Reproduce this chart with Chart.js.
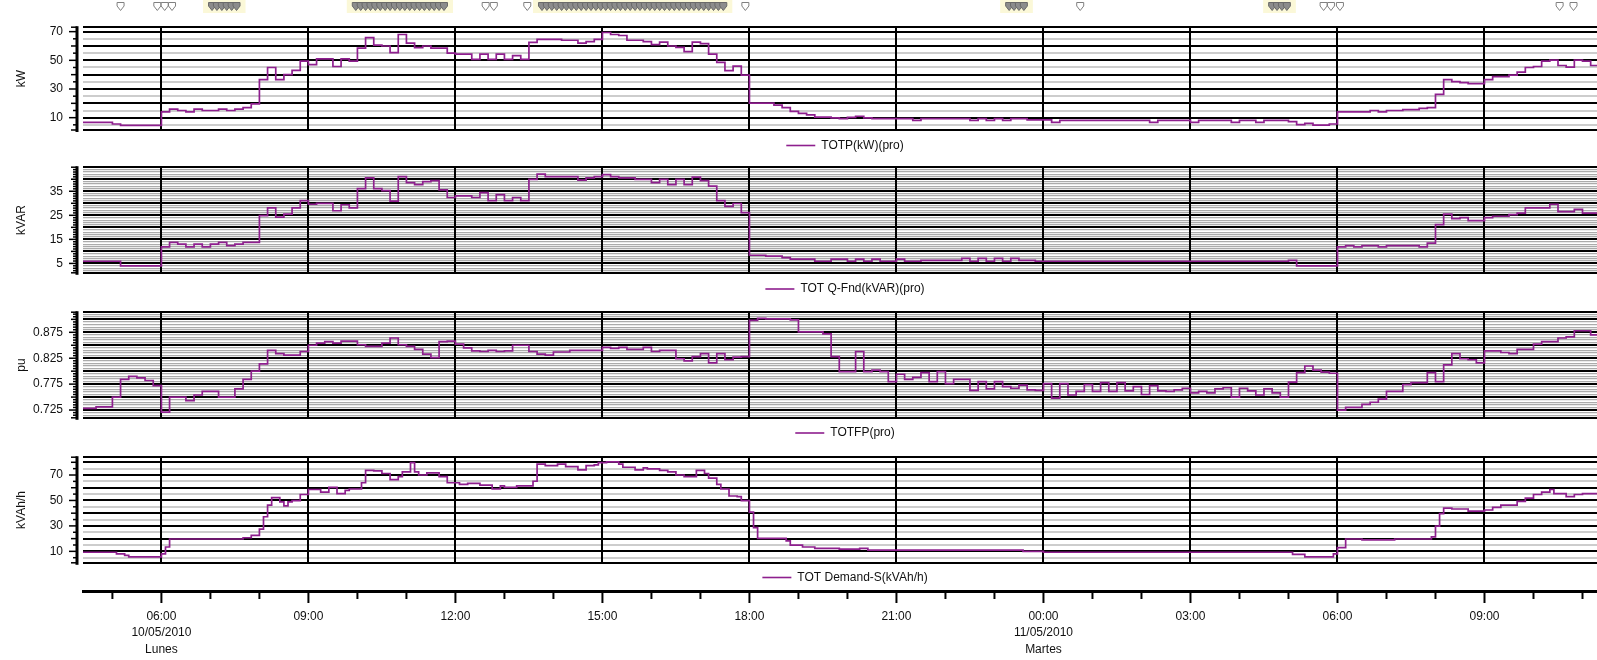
<!DOCTYPE html>
<html><head><meta charset="utf-8">
<script src="https://cdn.jsdelivr.net/npm/chart.js@4/dist/chart.umd.min.js"></script>
<style>
html,body{margin:0;padding:0;background:#fff;overflow:hidden;width:1597px;height:660px;position:relative}
canvas{position:absolute;left:0;display:block}
</style></head><body>
<canvas id="c1" width="1610" height="160" style="top:0px"></canvas>
<canvas id="c2" width="1610" height="160" style="top:140px"></canvas>
<canvas id="c3" width="1610" height="160" style="top:285px"></canvas>
<canvas id="c4" width="1610" height="160" style="top:430px"></canvas>
<canvas id="c5" width="1610" height="85" style="top:575px"></canvas>
<script>
// time values: minutes since Monday 10/05/2010 00:00
const X_MIN = 264, X_MAX = 2130;

// bottom axis tick labels
const timeTicks  = [360, 540, 720, 900, 1080, 1260, 1440, 1620, 1800, 1980];
const timeLabels = ['06:00','09:00','12:00','15:00','18:00','21:00','00:00','03:00','06:00','09:00'];
const dateTicks  = [360, 1440];
const dateLabels = ['10/05/2010', '11/05/2010'];
const dayLabels  = ['Lunes', 'Martes'];

// TOTP(kW)(pro)
const kwTime  = [264,300,310,360,370,380,390,400,410,430, 440,450,460,470,480,490,500,510,520,530,
  540,550,570,580,590,600,610,620,630,640, 650,660,670,680,690,710,720,740,750,760,
  770,780,790,800,810,820,850,870,880,890, 900,910,920,930,950,960,970,980,990,1000,
  1010,1020,1030,1040,1050,1060,1070,1080,1110,1120, 1130,1140,1150,1160,1180,1190,1200,1210,1220,1230,
  1280,1290,1350,1360,1370,1380,1390,1400,1420,1450, 1460,1570,1580,1620,1630,1670,1680,1700,1710,1740,
  1750,1760,1770,1790,1800,1840,1850,1860,1880,1900, 1910,1920,1930,1940,1950,1960,1980,1990,2010,2020,
  2030,2040,2050,2060,2070,2080,2090,2100,2110,2140];
const kwValue = [6.7,5.6,4.6,14,16,15,14,16,15,16, 15,16,17,19.6,36.5,45,36.5,40,43,49.5,
  47,51,45.7,51,49.5,58.5,65.8,60.6,60,55.4, 68,62,58.9,60,58.5,55,54.3,50.6,54.3,50.6,
  54.3,50.6,53.3,50.6,62.5,64.6,64,62,63,64.6, 69.4,68,67.3,64,63,61,62.7,60,59,56,
  62.7,61.6,54.3,48.5,42.8,46,39.7,20.2,18.8,17, 14.4,13,12,10.4,9.8,9.4,10.2,11,9.8,9.4,
  8.1,9.4,8.1,9.4,8.1,9.4,8.1,9.4,8.5,6.7, 8.1,6.7,8.1,6.7,8.1,6.7,8.1,6.7,8.1,7.3,
  5.2,6,4.8,5.6,14,15,14,15,15.6,16.5, 17,26.3,36.5,35.2,34.5,33.8,36.5,38.6,39.7,41.8,
  45,45.7,49.5,50.1,46.4,45.3,50.1,49.5,46.4,46.4];

// TOT Q-Fnd(kVAR)(pro)
const kvarTime  = [264,310,360,370,380,390,400,410,420,430, 440,450,460,480,490,500,510,520,530,540,
  550,570,580,590,600,610,620,630,640,650, 660,670,680,690,700,710,720,740,750,760,
  770,780,790,800,810,820,830,870,880,890, 900,910,920,940,960,970,980,990,1000,1010,
  1020,1030,1040,1050,1060,1070,1080,1100,1120,1130, 1160,1180,1200,1210,1220,1230,1240,1260,1270,1290,
  1340,1350,1360,1370,1380,1390,1400,1410,1430,1740, 1750,1800,1810,1820,1830,1850,1860,1900,1910,1920,
  1930,1940,1950,1960,1980,1990,2010,2020,2030,2060, 2070,2090,2100,2140];
const kvarValue = [5.9,4.0,11.9,13.75,13,11.9,13,11.9,13,13.75, 12.4,13,13.75,24.9,28.1,24.25,25.5,28.1,31.1,29.6,
  30,26.9,29.4,28.1,36.1,40.6,36.1,35.25,30.9,41.1, 38.6,37.75,39,39.4,35.6,32.4,33.1,32.4,34.4,31.1,
  33.6,31.1,32.4,31.1,39.9,42.1,41.1,39.6,40.6,41.1, 41.9,41.1,40.6,39.9,38.6,39.9,37.75,39.9,37.75,40.9,
  39.4,37.1,31.1,28.75,29.9,26.1,8.4,8,7.4,6.75, 5.9,6.75,5.9,6.75,5.9,6.75,5.9,6.75,5.9,6.25,
  7.1,5.9,7.1,5.9,7.1,5.9,7.1,6.25,5.9,6.25, 4.0,11.9,12.4,11.9,12.4,11.9,12.4,11.9,13.4,21.1,
  25.5,23.6,24,22.75,24,24.6,25.25,25.9,28.1,29.6, 26.5,27.5,25.9,25.9];

// TOTFP(pro)
const pfTime  = [264,280,300,310,320,330,340,350,360,370, 390,400,410,430,450,460,470,480,490,500,
  510,530,540,550,560,570,580,600,610,630, 640,650,660,670,680,690,700,710,720,730,
  740,750,760,770,780,790,810,820,830,840, 860,900,910,920,930,950,960,970,990,1000,
  1010,1020,1030,1040,1050,1060,1070,1080,1090,1100, 1130,1140,1170,1180,1190,1210,1220,1230,1240,1250,
  1260,1270,1280,1290,1300,1310,1320,1330,1350,1360, 1370,1380,1390,1400,1410,1420,1430,1440,1450,1460,
  1470,1480,1490,1500,1510,1520,1530,1540,1550,1560, 1570,1580,1590,1600,1610,1620,1630,1640,1650,1660,
  1670,1680,1690,1700,1710,1720,1730,1740,1750,1760, 1770,1780,1790,1800,1810,1830,1840,1850,1860,1880,
  1890,1910,1920,1930,1940,1950,1960,1970,1980,2000, 2010,2020,2040,2050,2070,2080,2090,2110,2140];
const pfValue = [.728,.731,.750,.784,.790,.787,.782,.772,.721,.750, .743,.754,.761,.750,.766,.784,.800,.814,.840,.834,
  .831,.838,.850,.854,.857,.854,.858,.851,.848,.854, .864,.851,.848,.842,.833,.826,.857,.858,.852,.845,
  .839,.838,.840,.838,.839,.850,.838,.833,.831,.837, .840,.846,.844,.846,.842,.846,.838,.840,.824,.820,
  .828,.834,.816,.834,.822,.827,.828,.898,.902,.901, .899,.876,.872,.828,.799,.838,.799,.802,.799,.780,
  .794,.784,.788,.797,.780,.799,.776,.784,.763,.780, .766,.780,.770,.767,.773,.764,.763,.776,.748,.776,
  .754,.761,.774,.761,.778,.761,.778,.762,.770,.755, .772,.762,.761,.764,.767,.758,.761,.758,.766,.768,
  .750,.767,.762,.754,.766,.758,.750,.779,.797,.810, .802,.798,.796,.725,.730,.736,.740,.746,.761,.774,
  .778,.797,.780,.812,.834,.824,.822,.816,.839,.836, .834,.842,.852,.857,.864,.866,.878,.870,.870];

// TOT Demand-S(kVAh/h)
const kvaTime  = [264,305,315,320,360,365,370,460,470,480, 485,490,495,505,510,515,520,530,540,555,
  565,575,585,590,605,610,620,630,640,650, 655,665,670,675,685,700,710,725,735,750,
  765,775,780,795,815,820,830,845,855,870, 880,890,895,905,920,925,940,950,955,970,
  980,990,1000,1015,1025,1030,1040,1045,1055,1065, 1070,1080,1085,1090,1125,1130,1145,1160,1190,1215,
  1225,1415,1440,1745,1760,1795,1800,1810,1830,1870, 1915,1920,1925,1930,1940,1960,1980,1990,2000,2020,
  2030,2040,2050,2060,2065,2080,2090,2100,2140];
const kvaValue = [9.3,8,6.8,5.6,8,13.4,19.7,20.7,22.6,27.5, 37.2,46.4,52.3,48.9,45.7,48.9,49.8,54.7,58.6,56.6,
  60.3,55.4,57.9,59,63.9,73.6,73.2,71.2,66.4,68.8, 72.4,79.7,72.4,70,71.7,68.8,63.9,62.7,63.4,62,
  59,61.5,60.3,61.5,65.1,78.5,77.3,78.5,76.6,74.1, 77.3,78,79.7,80.4,78.5,76.1,74.1,75.6,74.9,73.6,
  72.4,70,68.8,73.6,71.2,67.6,62.7,59,53.5,53, 49.8,40.8,28.7,20.2,18.3,14.9,13.4,12.4,11.7,12.4,
  11,10,9.3,7.6,5.6,8,12.9,19.7,19,19.7, 21.4,29.9,39.6,44,43.3,41.6,42.5,44.5,46.4,49.3,
  51.8,54.7,56.6,58.6,55.4,53,54.7,55.4,55.4];

// event markers along the top
const flagTimes  = [310, 355, 364, 373, 757, 767, 808, 1075, 1485, 1783, 1792, 1803, 2072, 2089];
const alarmTimes = [422, 428, 434, 440, 446, 452,
  598, 604, 610, 616, 622, 628, 634, 640, 646, 652, 658, 664, 670, 676, 682, 688, 694, 700, 706,
  826, 832, 838, 844, 850, 856, 862, 868, 874, 880, 886, 892, 898, 904, 910, 916, 922, 928, 934,
  940, 946, 952, 958, 964, 970, 976, 982, 988, 994, 1000, 1006, 1012, 1018, 1024, 1030, 1036, 1042, 1048,
  1398, 1404, 1410, 1416, 1720, 1726, 1732, 1738];

const FONT = "'Liberation Sans', Arial, sans-serif";
Chart.defaults.font.family = FONT;
Chart.defaults.font.size = 12;
Chart.defaults.color = '#111';
const LINE = '#8e1f8e';

const yAxisDecor = {
  id: 'yAxisDecor',
  afterDraw(chart) {
    const s = chart.scales.y, ctx = chart.ctx, a = chart.chartArea;
    const ax = a.left - 6;
    ctx.save();
    ctx.strokeStyle = '#000';
    ctx.lineWidth = 3;
    ctx.beginPath(); ctx.moveTo(ax, a.top - 1); ctx.lineTo(ax, a.bottom + 2); ctx.stroke();
    ctx.lineWidth = 1.5;
    for (const t of s.ticks) {
      const y = s.getPixelForValue(t.value);
      const len = t.label ? 8 : (t.major ? 6 : 4);
      ctx.beginPath(); ctx.moveTo(ax - len, y); ctx.lineTo(ax, y); ctx.stroke();
    }
    ctx.restore();
  }
};

const panelLegend = {
  id: 'panelLegend',
  afterDraw(chart, args, o) {
    const ctx = chart.ctx;
    const text = chart.data.datasets[0].label;
    ctx.save();
    ctx.font = '12px ' + FONT;
    const tw = ctx.measureText(text).width;
    const total = 29 + 6 + tw;
    const x0 = o.cx - total / 2;
    ctx.strokeStyle = LINE; ctx.lineWidth = 1.6;
    ctx.beginPath(); ctx.moveTo(x0, o.y); ctx.lineTo(x0 + 29, o.y); ctx.stroke();
    ctx.fillStyle = '#111'; ctx.textBaseline = 'middle'; ctx.textAlign = 'left';
    ctx.fillText(text, x0 + 35, o.y);
    ctx.restore();
  }
};

const eventMarkers = {
  id: 'eventMarkers',
  afterDraw(chart) {
    const ctx = chart.ctx, xs = chart.scales.x;
    const px = t => xs.getPixelForValue(t);
    ctx.save();
    const sorted = alarmTimes.slice().sort((a, b) => a - b);
    const groups = [];
    let g = [sorted[0]];
    for (let i = 1; i < sorted.length; i++) {
      if (sorted[i] - sorted[i - 1] <= 12) g.push(sorted[i]); else { groups.push(g); g = [sorted[i]]; }
    }
    groups.push(g);
    ctx.fillStyle = '#fbf8d8';
    for (const gr of groups) {
      const x0 = px(gr[0]) - 9, x1 = px(gr[gr.length - 1]) + 9;
      ctx.fillRect(x0, 0, x1 - x0, 13);
    }
    const mark = (x, fill, stroke) => {
      ctx.beginPath();
      ctx.moveTo(x - 3.5, 2.5); ctx.lineTo(x + 3.5, 2.5); ctx.lineTo(x + 3.5, 6);
      ctx.lineTo(x, 10.5); ctx.lineTo(x - 3.5, 6); ctx.closePath();
      ctx.fillStyle = fill; ctx.fill();
      ctx.strokeStyle = stroke; ctx.lineWidth = 1; ctx.stroke();
    };
    alarmTimes.forEach(t => mark(px(t), '#8c8c8c', '#6a6a6a'));
    flagTimes.forEach(t => mark(px(t), '#ffffff', '#808080'));
    ctx.restore();
  }
};

function near(a, b) { return Math.abs(a - b) < 1e-7; }
function isMult(v, step) { const k = v / step; return Math.abs(k - Math.round(k)) < 1e-6; }

function makePanel(id, p) {
  const canvasTop = p.canvasTop, H = 160;
  const data = p.times.map((t, i) => ({x: t, y: p.values[i]}));
  const plugins = [yAxisDecor, panelLegend];
  if (p.markers) plugins.push(eventMarkers);
  return new Chart(document.getElementById(id), {
    type: 'line',
    data: {datasets: [{label: p.legend, data, stepped: 'before', borderColor: LINE, borderWidth: 1.7,
      pointRadius: 0, fill: false, tension: 0}]},
    options: {
      responsive: false, animation: false, events: [],
      layout: {padding: {left: 10, right: 3, top: p.top - canvasTop, bottom: canvasTop + H - p.bottom}},
      plugins: {legend: {display: false}, tooltip: {enabled: false},
        panelLegend: {cx: 845, y: p.legendY - canvasTop}},
      scales: {
        x: {type: 'linear', min: X_MIN, max: X_MAX,
          afterBuildTicks: s => { s.ticks = timeTicks.map(v => ({value: v})); },
          ticks: {display: false}, grid: {color: '#000', lineWidth: 2, drawTicks: false, z: -1},
          border: {display: false}, afterFit: s => { s.height = 0; }},
        y: {type: 'linear', min: p.min, max: p.max,
          title: {display: true, text: p.title, color: '#111', font: {size: 12}, padding: {top: 4, bottom: 4}},
          afterBuildTicks: s => {
            const ticks = [{value: p.min, major: true}];
            const k0 = Math.ceil(p.min / p.minor - 1e-9), k1 = Math.floor(p.max / p.minor + 1e-9);
            for (let k = k0; k <= k1; k++) {
              const v = +(k * p.minor).toFixed(6);
              if (near(v, p.min) || near(v, p.max)) continue;
              ticks.push({value: v, major: isMult(v, p.major)});
            }
            ticks.push({value: p.max, major: true});
            s.ticks = ticks;
          },
          ticks: {autoSkip: false, padding: 20, color: '#111',
            callback: v => p.labels.some(l => near(l, v)) ? v.toFixed(p.dec) : ''},
          grid: {drawTicks: false, z: -2,
            color: c => (c.tick && c.tick.major) ? '#000' : p.greyColor,
            lineWidth: c => (c.tick && c.tick.major) ? 2 : p.greyWidth},
          border: {display: false},
          afterFit: s => { s.width = 73; }}
      }
    },
    plugins
  });
}

makePanel('c1', {canvasTop: 0, top: 16, bottom: 130, legendY: 145.5, min: 1.4, max: 73.1,
  minor: 5, major: 10, labels: [10, 30, 50, 70], dec: 0, title: 'kW',
  legend: 'TOTP(kW)(pro)', times: kwTime, values: kwValue, greyColor: '#cdcdcd', greyWidth: 2, markers: true});
makePanel('c2', {canvasTop: 140, top: 159, bottom: 276, legendY: 289, min: 1.1, max: 45,
  minor: 1, major: 5, labels: [5, 15, 25, 35], dec: 0, title: 'kVAR',
  legend: 'TOT Q-Fnd(kVAR)(pro)', times: kvarTime, values: kvarValue, greyColor: '#ababab', greyWidth: 1.2});
makePanel('c3', {canvasTop: 285, top: 304, bottom: 418, legendY: 433, min: 0.710, max: 0.9138,
  minor: 0.005, major: 0.025, labels: [0.725, 0.775, 0.825, 0.875], dec: 3, title: 'pu',
  legend: 'TOTFP(pro)', times: pfTime, values: pfValue, greyColor: '#ababab', greyWidth: 1.2});
makePanel('c4', {canvasTop: 430, top: 448, bottom: 563, legendY: 577.5, min: 1.0, max: 84,
  minor: 5, major: 10, labels: [10, 30, 50, 70], dec: 0, title: 'kVAh/h',
  legend: 'TOT Demand-S(kVAh/h)', times: kvaTime, values: kvaValue, greyColor: '#cdcdcd', greyWidth: 2});

// bottom time axis
const xTickMarks = {
  id: 'xTickMarks',
  afterDraw(chart) {
    const s = chart.scales.x, ctx = chart.ctx, y0 = chart.chartArea.bottom;
    ctx.save(); ctx.strokeStyle = '#000'; ctx.lineWidth = 2;
    for (const t of s.ticks) {
      const x = s.getPixelForValue(t.value);
      const len = timeTicks.includes(t.value) ? 12 : 8;
      ctx.beginPath(); ctx.moveTo(x, y0); ctx.lineTo(x, y0 + len); ctx.stroke();
    }
    ctx.restore();
  }
};
new Chart(document.getElementById('c5'), {
  type: 'line', data: {datasets: []},
  options: {
    responsive: false, animation: false, events: [],
    layout: {padding: {left: 83, right: 3, top: 5, bottom: 0}},
    plugins: {legend: {display: false}, tooltip: {enabled: false}},
    scales: {
      x: {type: 'linear', position: 'bottom', min: X_MIN, max: X_MAX,
        afterBuildTicks: s => {
          const t = [];
          for (let m = Math.ceil(X_MIN / 60) * 60; m <= X_MAX; m += 60) t.push({value: m});
          s.ticks = t;
        },
        ticks: {autoSkip: false, maxRotation: 0, minRotation: 0, padding: 18, color: '#111',
          font: {size: 12, lineHeight: 1.34},
          callback: v => {
            const i = timeTicks.indexOf(v);
            if (i < 0) return '';
            const d = dateTicks.indexOf(v);
            return d < 0 ? timeLabels[i] : [timeLabels[i], dateLabels[d], dayLabels[d]];
          }},
        grid: {display: false, drawTicks: false},
        border: {display: true, color: '#000', width: 3},
        afterFit: s => { s.height = 69; }},
      y: {display: false, min: 0, max: 1}
    }
  },
  plugins: [xTickMarks]
});
</script>
</body></html>
